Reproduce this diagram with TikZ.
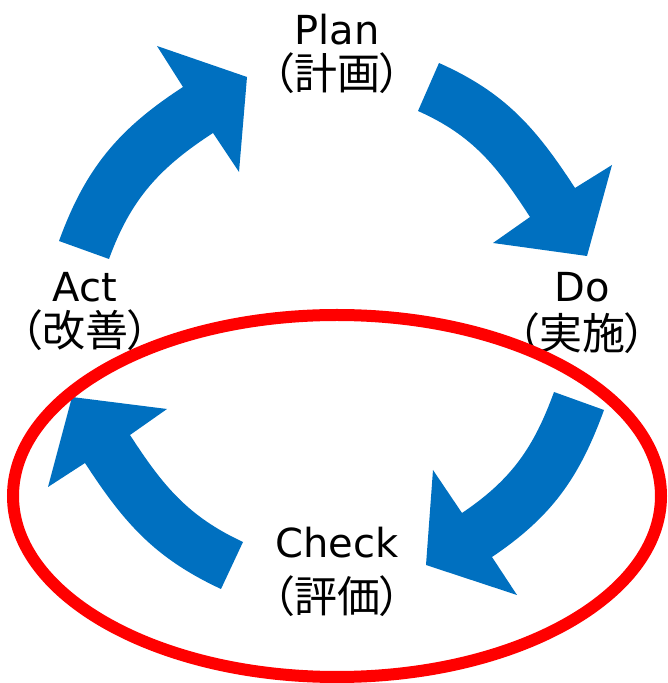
\documentclass[tikz,border=0pt]{standalone}
\usepackage{fontspec}
\setmainfont{DejaVu Sans}
\newfontfamily\jpfont[RawFeature=+palt]{Noto Sans CJK JP}
\definecolor{arrowblue}{HTML}{0070C0}
\definecolor{markred}{HTML}{FF0000}
\begin{document}
\begin{tikzpicture}[x=1pt,y=1pt,
  cyc/.style={fill=arrowblue, draw=none},
  lat/.style={font=\fontsize{40}{48}\selectfont, anchor=base, inner sep=0pt},
  jap/.style={font=\jpfont\fontsize{43}{50}\selectfont, anchor=base, inner sep=0pt},
  focus/.style={draw=markred, line width=12pt}]
\useasboundingbox (0,0) rectangle (668,683);

% Act -> Plan
\fill[cyc] (59,442) to[out=70,in=213] (183,596) -- (157,637) -- (247,606)
  -- (239,511) -- (213,550) to[out=213,in=70] (109,424) -- cycle;
% Plan -> Do
\fill[cyc] (439,620) to[out=-24,in=123] (575,495) -- (612,518) -- (587,427)
  -- (493,440) -- (530,466) to[out=123,in=-24] (418,572) -- cycle;
% Do -> Check
\fill[cyc] (604,273) to[out=-110,in=34] (492,126) -- (517,88) -- (426,118)
  -- (433,213) -- (462,170) to[out=34,in=-110] (554,291) -- cycle;
% Check -> Act
\fill[cyc] (221,94) to[out=155,in=-57] (85,220) -- (48,196) -- (72,286)
  -- (167,274) -- (130,248) to[out=-57,in=155] (243,141) -- cycle;

\node[lat] (plan) at (337,638) {Plan};
\node[jap] (planjp) at (337,593) {（計画）};
\node[lat] (do) at (582,381) {Do};
\node[jap] (dojp) at (582,333) {（実施）};
\node[lat] (act) at (85,381) {Act};
\node[jap] (actjp) at (85,336) {（改善）};
\node[lat] (check) at (337,125) {Check};
\node[jap] (checkjp) at (337,70) {（評価）};

\draw[focus] (337,187) ellipse [x radius=324, y radius=181];
\end{tikzpicture}
\end{document}
